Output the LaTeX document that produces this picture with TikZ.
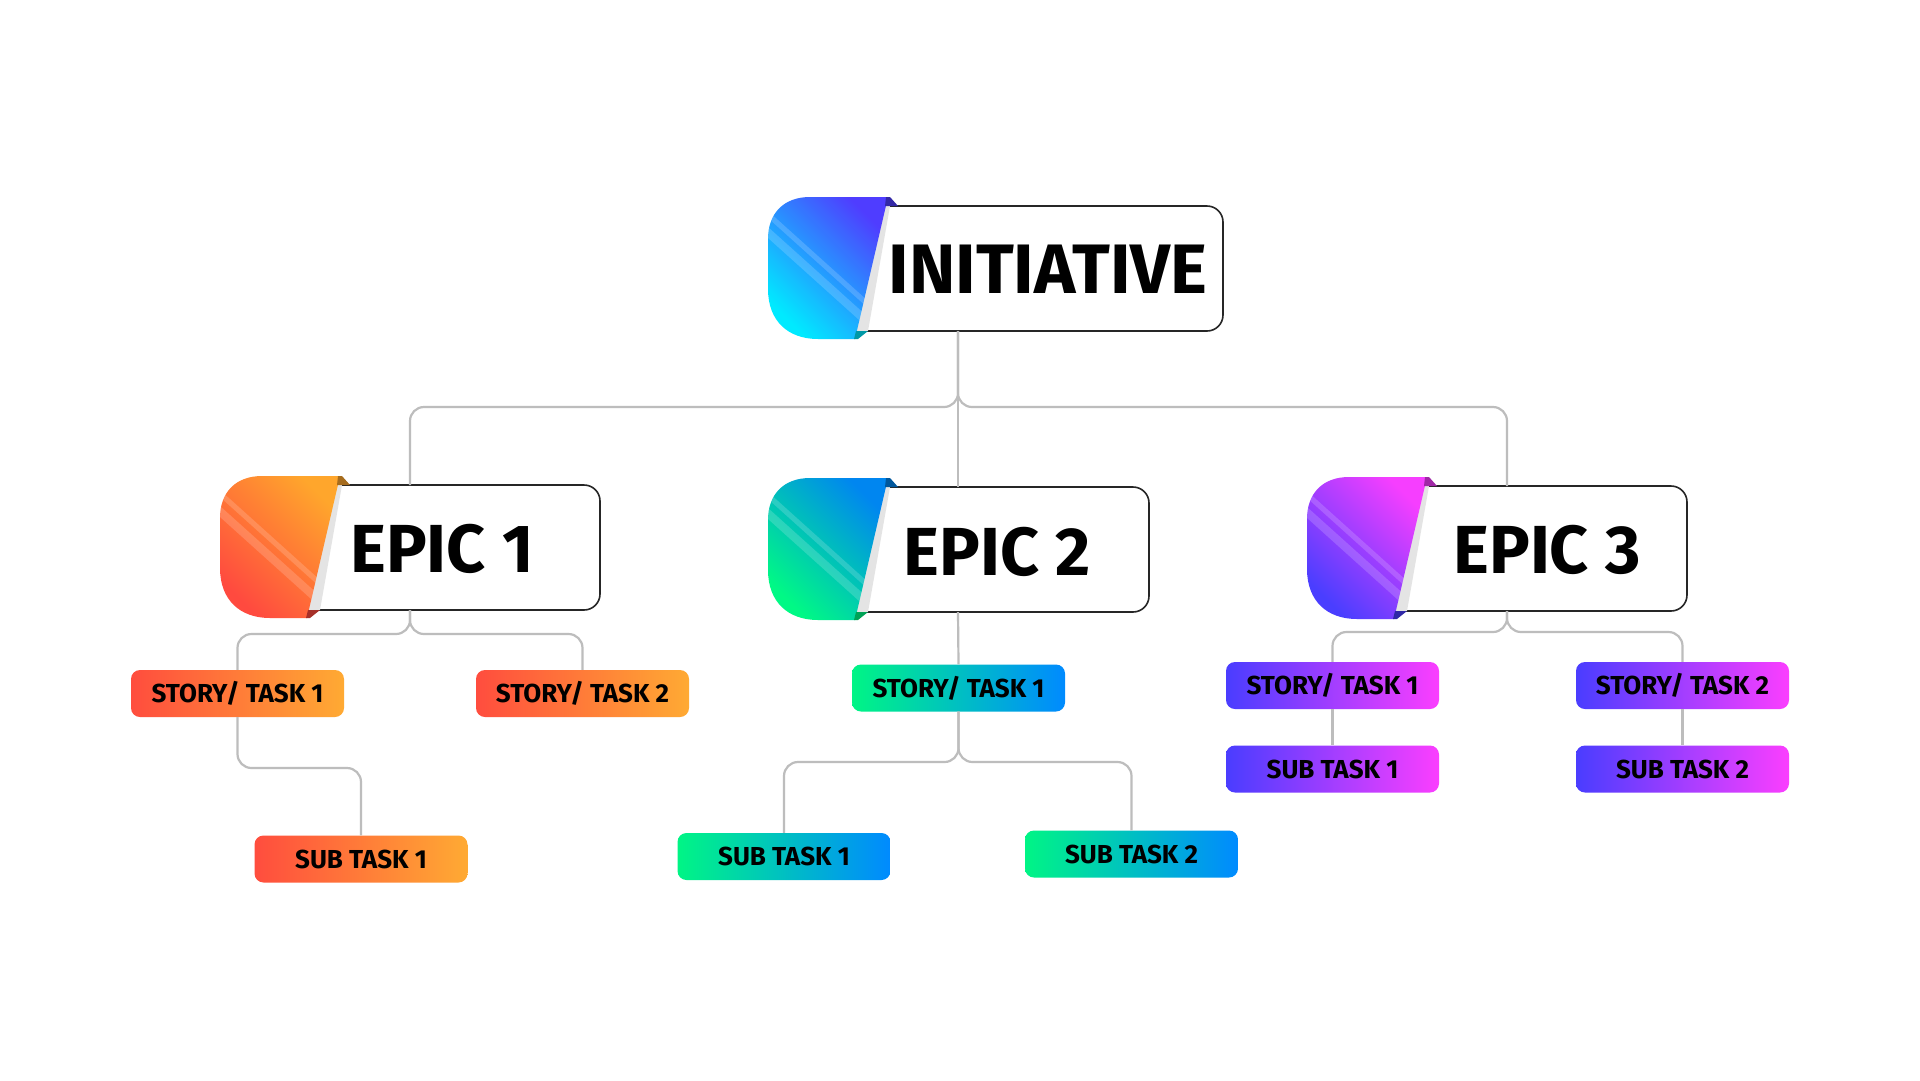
\documentclass[tikz,border=0pt]{standalone}
\usepackage{fontspec}
\setmainfont{Fira Sans}
\usetikzlibrary{calc}
\definecolor{lineg}{HTML}{BDBDBD}
\definecolor{iniTR}{HTML}{4F3DFF}
\definecolor{iniBL}{HTML}{00EAFF}
\definecolor{orTR}{HTML}{FFA62C}
\definecolor{orBL}{HTML}{FF4A3F}
\definecolor{grTR}{HTML}{0086F0}
\definecolor{grBL}{HTML}{00F985}
\definecolor{puTR}{HTML}{F63EFF}
\definecolor{puBL}{HTML}{4A3EFF}
\definecolor{orL}{HTML}{FF4D3E}
\definecolor{orR}{HTML}{FFAA33}
\definecolor{grL}{HTML}{00F585}
\definecolor{grR}{HTML}{008AFF}
\definecolor{puL}{HTML}{4A3DFF}
\definecolor{puR}{HTML}{FB3EFF}
\definecolor{stripg}{HTML}{E4E4E4}
\newcommand{\leafpath}[2]{({#1+120},#2) -- ({#1+42},#2) .. controls ({#1+16},#2) and (#1,{#2+16}) .. (#1,{#2+42}) -- (#1,{#2+92}) .. controls (#1,{#2+124}) and ({#1+20},{#2+142}) .. ({#1+50},{#2+142}) -- ({#1+87},{#2+142}) -- cycle}
% #1 name, #2 L, #3 T, #4 boxR, #5 connector x, #6 TR colour, #7 BL colour
\newcommand{\epicshape}[7]{%
  \draw[rounded corners=16, line width=1.6, draw=black!85, fill=white] ({#2+60},{#3+9}) rectangle (#4,{#3+134});
  \fill[stripg] ({#2+117},{#3+9}) -- ({#2+122},{#3+9}) -- ({#2+100},{#3+134}) -- ({#2+88},{#3+134}) -- cycle;
  \shade[top color=#6, bottom color=#7, shading angle=-45] \leafpath{#2}{#3};
  \begin{scope}
    \clip \leafpath{#2}{#3};
    \fill[white, opacity=.17] ({#2-10},{#3+5}) -- ({#2+200},{#3+194}) -- ({#2+200},{#3+201}) -- ({#2-10},{#3+12}) -- cycle;
    \fill[white, opacity=.17] ({#2-10},{#3+21}) -- ({#2+200},{#3+210}) -- ({#2+200},{#3+221}) -- ({#2-10},{#3+32}) -- cycle;
  \end{scope}
  \fill[#6!65!black] ({#2+118},#3) -- ({#2+122},#3) -- ({#2+130},{#3+9}) -- ({#2+117},{#3+9}) -- cycle;
  \fill[#7!65!black] ({#2+86},{#3+142}) -- ({#2+90},{#3+142}) -- ({#2+100},{#3+134}) -- ({#2+88},{#3+134}) -- cycle;
  \node[anchor=north, minimum width={2*(#4-#5)}, minimum height=125, inner sep=0, outer sep=0] (#1) at (#5,{#3+9}) {};
}
\tikzset{
  x=1pt, y=-1pt,
  conn/.style={draw=lineg, line width=2.2, rounded corners=14},
  headtext/.style={anchor=base, inner sep=0, font=\bfseries\fontsize{70}{80}\selectfont},
  epictext/.style={anchor=base, inner sep=0, font=\bfseries\fontsize{68}{78}\selectfont},
  task/.style={rounded corners=9, minimum width=213, minimum height=47, inner sep=0, text height=18, text depth=0, font=\bfseries\fontsize{26}{30}\selectfont},
  orbox/.style={task, left color=orL, right color=orR},
  grbox/.style={task, left color=grL, right color=grR},
  pubox/.style={task, left color=puL, right color=puR},
}
\begin{document}
\begin{tikzpicture}
\fill[white] (0,0) rectangle (1920,1080);
\useasboundingbox (0,0) rectangle (1920,1080);

% junction levels
\coordinate (j0) at (0,407);
\coordinate (j1) at (0,634);
\coordinate (j1b) at (0,768);
\coordinate (j2) at (0,762);
\coordinate (j3) at (0,632);

% main nodes
\epicshape{ini}{768}{197}{1223}{958}{iniTR}{iniBL}
\node[headtext] (init) at (1048,293) {INITIATIVE};
\epicshape{e1}{220}{476}{600}{410}{orTR}{orBL}
\node[epictext] (e1t) at (442,572) {EPIC 1};
\epicshape{e2}{768}{478}{1149}{958}{grTR}{grBL}
\node[epictext] (e2t) at (997,575) {EPIC 2};
\epicshape{e3}{1307}{477}{1687}{1507}{puTR}{puBL}
\node[epictext] (e3t) at (1547,573) {EPIC 3};

% tasks
\node[orbox] (s11) at (237.5,693.5) {STORY/ TASK 1};
\node[orbox] (s12) at (582.5,693.5) {STORY/ TASK 2};
\node[orbox] (u11) at (361,859) {SUB TASK 1};
\node[grbox] (s21) at (958.5,688) {STORY/ TASK 1};
\node[grbox] (u21) at (784,856.5) {SUB TASK 1};
\node[grbox] (u22) at (1131.5,854) {SUB TASK 2};
\node[pubox] (s31) at (1332.5,685.5) {STORY/ TASK 1};
\node[pubox] (s32) at (1682.5,685.5) {STORY/ TASK 2};
\node[pubox] (u31) at (1332.5,769) {SUB TASK 1};
\node[pubox] (u32) at (1682.5,769) {SUB TASK 2};

% connectors
\draw[conn] (ini.south) -- (e2.north);
\draw[conn] (ini.south) -- (ini.south |- j0) -- (j0 -| e1.north) -- (e1.north);
\draw[conn] (ini.south) -- (ini.south |- j0) -- (j0 -| e3.north) -- (e3.north);

\draw[conn] (e1.south) -- (e1.south |- j1) -- (j1 -| s11.north) -- (s11.north);
\draw[conn] (e1.south) -- (e1.south |- j1) -- (j1 -| s12.north) -- (s12.north);
\draw[conn] (s11.south) -- (s11.south |- j1b) -- (j1b -| u11.north) -- (u11.north);

\draw[conn] (e2.south) -- (s21.north);
\draw[conn] (s21.south) -- (s21.south |- j2) -- (j2 -| u21.north) -- (u21.north);
\draw[conn] (s21.south) -- (s21.south |- j2) -- (j2 -| u22.north) -- (u22.north);

\draw[conn] (e3.south) -- (e3.south |- j3) -- (j3 -| s31.north) -- (s31.north);
\draw[conn] (e3.south) -- (e3.south |- j3) -- (j3 -| s32.north) -- (s32.north);
\draw[conn] (s31.south) -- (u31.north);
\draw[conn] (s32.south) -- (u32.north);
\end{tikzpicture}
\end{document}
